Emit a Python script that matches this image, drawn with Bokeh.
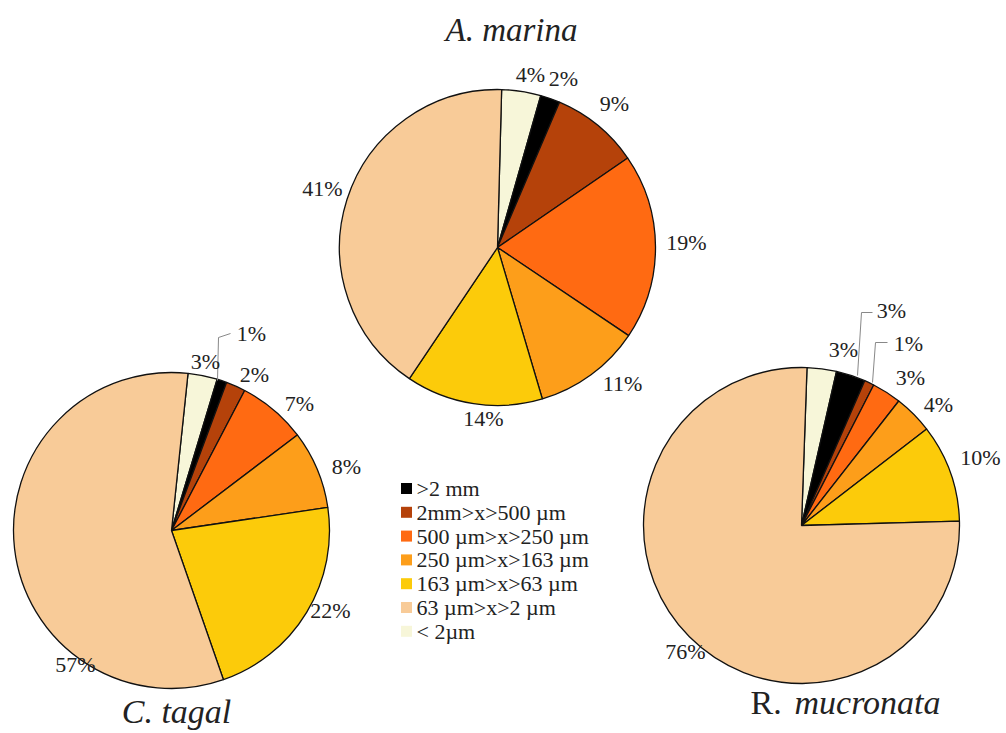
from bokeh.plotting import figure
from bokeh.models import Range1d, ColumnDataSource
from bokeh.core.properties import value
from bokeh.embed import file_html
from bokeh.resources import INLINE

# ---------------- data ----------------
categories = [">2 mm", "2mm>x>500 µm", "500 µm>x>250 µm", "250 µm>x>163 µm",
              "163 µm>x>63 µm", "63 µm>x>2 µm", "< 2µm"]
colors = ["#000000", "#B5420A", "#FF6A12", "#FD9E1A", "#FCCB0A", "#F8CB98", "#F7F6D9"]
species = ["A. marina", "C. tagal", "R. mucronata"]
a_marina = [2, 9, 19, 11, 14, 41, 4]
c_tagal = [1, 2, 7, 8, 22, 57, 3]
r_mucronata = [3, 1, 3, 4, 10, 76, 3]
pie_order = [6, 0, 1, 2, 3, 4, 5]   # clockwise from 12 o'clock

# ---------------- layout (page pixel coordinates) ----------------
W, H = 1006, 733
def Y(iy):
    return H - iy

centers = [(497, 247), (171, 530), (801, 525)]
radius = 158
rotations = [1.5, 6.0, 2.0]
label_pos = [
    [(563, 78), (614, 103), (686, 242), (622, 383), (483, 418), (322, 188), (530, 74)],
    [(251, 333), (254, 374), (299, 403), (346, 466), (330, 610), (75, 664), (205, 361)],
    [(891, 310), (908, 343), (910, 377), (938, 404), (980, 457), (685, 651), (843, 349)],
]
leaders = [
    [(217, 380), (218, 337), (230, 333)],
    [(857, 375), (861, 312), (872, 312)],
    [(872, 382), (875, 342), (887, 342)],
]
legend_x, legend_y0, legend_step = 406, 488, 23.8

serif = value("Liberation Serif")

p = figure(width=W, height=H, output_backend="svg", toolbar_location=None,
           x_range=Range1d(0, W), y_range=Range1d(0, H),
           min_border=0, background_fill_color="white", border_fill_color="white")
p.axis.visible = False
p.grid.visible = False
p.outline_line_color = None

# ---------------- wedges ----------------
wx, wy, ws, we, wc = [], [], [], [], []
lx, ly, lt = [], [], []
for si, vals in enumerate([a_marina, c_tagal, r_mucronata]):
    cx, cy = centers[si]
    total = float(sum(vals))
    cum = 0.0
    for ci in pie_order:
        a0 = rotations[si] + cum / total * 360.0
        cum += vals[ci]
        a1 = rotations[si] + cum / total * 360.0
        wx.append(cx); wy.append(Y(cy))
        ws.append(90 - a1); we.append(90 - a0)
        wc.append(colors[ci])
    for ci in range(len(categories)):
        x, y = label_pos[si][ci]
        lx.append(x); ly.append(Y(y)); lt.append(f"{vals[ci]}%")

src = ColumnDataSource(dict(x=wx, y=wy, s=ws, e=we, c=wc))
p.wedge(x="x", y="y", radius=radius, start_angle="s", end_angle="e",
        start_angle_units="deg", end_angle_units="deg", direction="anticlock",
        fill_color="c", line_color="#111111", line_width=1.3, source=src)

# leader lines
for pts in leaders:
    p.line([q[0] for q in pts], [Y(q[1]) for q in pts], line_color="#888888", line_width=1)

# percent labels
p.text(lx, ly, text=lt, text_font=serif, text_font_size="22px", text_color="#222222",
       text_align="center", text_baseline="middle")

# titles
p.text([511], [Y(29)], text=["A. marina"], text_font=serif, text_font_size="33px",
       text_font_style="italic", text_color="#222222", text_align="center", text_baseline="middle")
p.text([176], [Y(711)], text=["C. tagal"], text_font=serif, text_font_size="34px",
       text_font_style="italic", text_color="#222222", text_align="center", text_baseline="middle")
p.text([750], [Y(702)], text=["R."], text_font=serif, text_font_size="34px",
       text_color="#222222", text_align="left", text_baseline="middle")
p.text([794], [Y(702)], text=["mucronata"], text_font=serif, text_font_size="34px",
       text_font_style="italic", text_color="#222222", text_align="left", text_baseline="middle")

# legend
ry = [Y(legend_y0 + i * legend_step) for i in range(len(categories))]
p.rect([legend_x] * len(categories), ry, width=11, height=11, fill_color=colors, line_color=None)
p.text([legend_x + 10] * len(categories), ry, text=categories, text_font=serif,
       text_font_size="22px", text_color="#222222", text_align="left", text_baseline="middle")

open("out.html", "w").write(file_html(p, INLINE))
